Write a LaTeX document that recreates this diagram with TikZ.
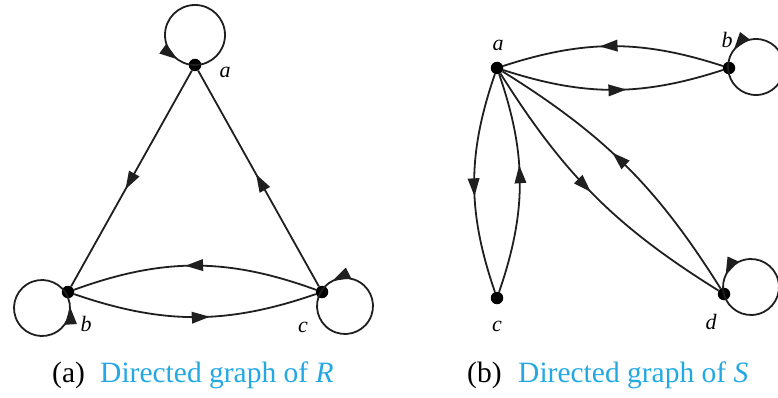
\documentclass[tikz,border=0pt]{standalone}
\usepackage{fontspec}
\setmainfont{Liberation Serif}
\usetikzlibrary{arrows.meta,decorations.markings,calc}
\definecolor{capblue}{RGB}{35,168,228}

\tikzset{
  vertex/.style={circle, fill=black, inner sep=0pt, minimum size=12.5pt},
  vlabel/.style={font=\fontsize{22}{26}\selectfont\itshape, inner sep=0pt},
  capfont/.style={font=\fontsize{29.5}{34}\selectfont, inner sep=0pt, anchor=base west},
  edge/.style={line width=1.8pt, draw=black!88},
  edgehead/.tip={Triangle[length=18pt,width=11.5pt]},
  midarrow/.style={postaction=decorate,
    decoration={markings, mark=at position #1 with {\arrow{edgehead}}}},
  midarrow/.default=0.54,
}

\begin{document}
\begin{tikzpicture}[x=1pt, y=1pt]
\useasboundingbox (0,0) rectangle (778,397);
\clip (0,0) rectangle (778,397);

% ---------- graph of R ----------
\node[vertex] (a1) at (195,332) {};
\node[vertex] (b1) at (68,105) {};
\node[vertex] (c1) at (322,105) {};
\coordinate (la1) at (195,362);
\coordinate (lb1) at (42,89);
\coordinate (lc1) at (345,91);

\draw[edge, midarrow=0.55] (a1) -- (b1);
\draw[edge, midarrow=0.52] (c1) -- (a1);
\draw[edge, midarrow=0.56] (b1) to[bend right=19] (c1);
\draw[edge, midarrow=0.54] (c1) to[bend right=20] (b1);

\draw[edge, midarrow=0.9] ($(la1)+(-90:30)$) arc[start angle=-90, end angle=270, radius=30];
\draw[edge, midarrow=0.92] ($(lb1)+(32:28)$) arc[start angle=32, end angle=392, radius=28];
\draw[edge, midarrow=0.91] ($(lc1)+(149:28)$) arc[start angle=149, end angle=509, radius=28];

\node[vlabel] (ta1) at (225,325) {a};
\node[vlabel] (tb1) at (86,73) {b};
\node[vlabel] (tc1) at (303,70) {c};

% ---------- graph of S ----------
\node[vertex] (a2) at (497,329) {};
\node[vertex] (b2) at (729,329) {};
\node[vertex] (c2) at (497,99) {};
\node[vertex] (d2) at (724,103) {};
\coordinate (lb2) at (756,330);
\coordinate (ld2) at (751,110);

\draw[edge, midarrow=0.56] (b2) to[bend right=18] (a2);
\draw[edge, midarrow=0.56] (a2) to[bend right=18] (b2);
\draw[edge, midarrow=0.56] (a2) to[bend right=19] (c2);
\draw[edge, midarrow=0.58] (c2) to[bend right=19] (a2);
\draw[edge, midarrow=0.48] (a2) to[bend right=13] (d2);
\draw[edge, midarrow=0.56] (d2) to[bend right=13] (a2);

\draw[edge, midarrow=0.89] ($(lb2)+(182:28)$) arc[start angle=182, end angle=542, radius=28];
\draw[edge, midarrow=0.89] ($(ld2)+(195:28)$) arc[start angle=195, end angle=555, radius=28];

\node[vlabel] (ta2) at (498,352) {a};
\node[vlabel] (tb2) at (727,357) {b};
\node[vlabel] (tc2) at (497,71) {c};
\node[vlabel] (td2) at (711,75) {d};

% ---------- captions ----------
\node[capfont] (capa) at (52,15) {(a)};
\node[capfont, text=capblue] (capta) at (100,15) {Directed graph of \textit{R}};
\node[capfont] (capb) at (467,15) {(b)};
\node[capfont, text=capblue] (captb) at (518,15) {Directed graph of \textit{S}};
\end{tikzpicture}
\end{document}
